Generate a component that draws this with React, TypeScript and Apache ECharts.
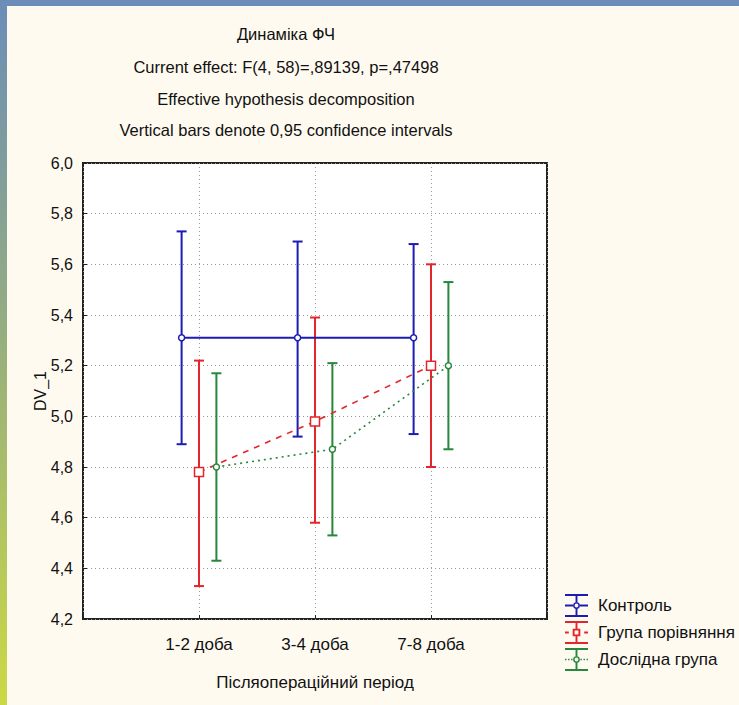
import React, { useEffect, useRef } from 'react';
import * as echarts from 'echarts';

const categories = ['1-2 доба', '3-4 доба', '7-8 доба'];
const seriesNames = ['Контроль', 'Група порівняння', 'Дослідна група'];

const controlMean = [5.31, 5.31, 5.31];
const controlLow = [4.89, 4.92, 4.93];
const controlHigh = [5.73, 5.69, 5.68];

const compareMean = [4.78, 4.98, 5.2];
const compareLow = [4.33, 4.58, 4.8];
const compareHigh = [5.22, 5.39, 5.6];

const studyMean = [4.8, 4.87, 5.2];
const studyLow = [4.43, 4.53, 4.87];
const studyHigh = [5.17, 5.21, 5.53];

const titleLines = [
  'Динаміка ФЧ',
  'Current effect: F(4, 58)=,89139, p=,47498',
  'Effective hypothesis decomposition',
  'Vertical bars denote 0,95 confidence intervals',
];
const yAxisName = 'DV_1';
const xAxisName = 'Післяопераційний період';

const FONT = '"Liberation Sans", Arial, sans-serif';

// legend icon pieces (24x24 box)
const caps = 'M0 0H24V2H0Z M0 22H24V24H0Z ';
const vertCircle = 'M11 2H13V8.5H11Z M11 15.5H13V22H11Z ';
const vertSquare = 'M11 2H13V8H11Z M11 16H13V22H11Z ';
const ring =
  'M15.5 12A3.5 3.5 0 1 1 8.5 12A3.5 3.5 0 1 1 15.5 12Z M14 12A2 2 0 1 0 10 12A2 2 0 1 0 14 12Z ';
const square = 'M8 8H16V16H8Z M10 10V14H14V10Z ';
const iconSolid = 'path://' + caps + vertCircle + 'M0 11H8.5V13H0Z M15.5 11H24V13H15.5Z ' + ring;
const iconDashed = 'path://' + caps + vertSquare + 'M0 11H4V13H0Z M20 11H24V13H20Z ' + square;
const iconDotted =
  'path://' +
  caps +
  vertCircle +
  'M0 11.2H1.5V12.8H0Z M3.2 11.2H4.7V12.8H3.2Z M6.4 11.2H7.9V12.8H6.4Z M16.1 11.2H17.6V12.8H16.1Z M19.3 11.2H20.8V12.8H19.3Z M22.5 11.2H24V12.8H22.5Z ' +
  ring;

const groups = [
  { name: seriesNames[0], mean: controlMean, low: controlLow, high: controlHigh, color: '#1c1cb4', offset: -0.15, symbol: 'circle', size: 6, line: 'solid', icon: iconSolid },
  { name: seriesNames[1], mean: compareMean, low: compareLow, high: compareHigh, color: '#e3262c', offset: 0, symbol: 'rect', size: 9, line: [6, 6], icon: iconDashed },
  { name: seriesNames[2], mean: studyMean, low: studyLow, high: studyHigh, color: '#27873a', offset: 0.15, symbol: 'circle', size: 6, line: [2, 4], icon: iconDotted },
];

export default function App() {
  const ref = useRef<HTMLDivElement>(null);
  useEffect(() => {
    if (!ref.current) return;
    const chart = echarts.init(ref.current, undefined, { renderer: 'svg' });
    const lineSeries = groups.map((g) => ({
      type: 'line',
      name: g.name,
      data: g.mean.map((v, i) => [i + 1 + g.offset, v]),
      symbol: g.symbol,
      symbolSize: g.size,
      itemStyle: { color: '#ffffff', borderColor: g.color, borderWidth: 1.5 },
      lineStyle: { color: g.color, width: g.line === 'solid' ? 2 : 1.6, type: g.line },
      z: 4,
    }));
    const barSeries = groups.map((g) => ({
      type: 'custom',
      name: g.name,
      data: g.low.map((l, i) => [i + 1 + g.offset, l, g.high[i]]),
      encode: { x: 0, y: [1, 2] },
      z: 3,
      renderItem: (params: any, api: any) => {
        const x = api.value(0);
        const top = api.coord([x, api.value(2)]);
        const bot = api.coord([x, api.value(1)]);
        const hw = 5;
        const style = { stroke: g.color, lineWidth: 2 };
        return {
          type: 'group',
          children: [
            { type: 'line', shape: { x1: top[0], y1: top[1], x2: bot[0], y2: bot[1] }, style },
            { type: 'line', shape: { x1: top[0] - hw, y1: top[1], x2: top[0] + hw, y2: top[1] }, style },
            { type: 'line', shape: { x1: bot[0] - hw, y1: bot[1], x2: bot[0] + hw, y2: bot[1] }, style },
          ],
        };
      },
    }));
    const option: any = {
      animation: false,
      backgroundColor: '#fffaf0',
      textStyle: { fontFamily: FONT },
      title: titleLines.map((t, i) => ({
        text: t,
        left: 286,
        top: [25, 58, 90, 121][i],
        textAlign: 'center',
        padding: 0,
        textStyle: { fontSize: 16.5, fontWeight: 'normal', color: '#111', fontFamily: FONT },
      })),
      graphic: [
        { type: 'rect', shape: { x: 0, y: 0, width: 739, height: 6 }, style: { fill: '#6b8db8' } },
        {
          type: 'rect',
          shape: { x: 0, y: 0, width: 7, height: 705 },
          style: {
            fill: new echarts.graphic.LinearGradient(0, 0, 0, 1, [
              { offset: 0, color: '#6b8db8' },
              { offset: 0.5, color: '#98b07c' },
              { offset: 1, color: '#cbd944' },
            ]),
          },
        },
      ],
      legend: {
        orient: 'vertical',
        left: 565,
        top: 594,
        padding: 0,
        itemWidth: 23,
        itemHeight: 24,
        itemGap: 4,
        textStyle: { fontSize: 17, color: '#111', fontFamily: FONT, padding: [0, 0, 0, 5] },
        data: groups.map((g) => ({
          name: g.name,
          icon: g.icon,
          itemStyle: { color: g.color, borderWidth: 0 },
        })),
      },
      grid: {
        left: 83,
        right: 192,
        top: 163,
        bottom: 86,
        show: true,
        backgroundColor: '#ffffff',
        borderColor: '#222',
        borderWidth: 2,
      },
      xAxis: {
        type: 'value',
        min: 0,
        max: 4,
        interval: 1,
        name: xAxisName,
        nameLocation: 'middle',
        nameGap: 55,
        nameTextStyle: { fontSize: 17, color: '#111', fontFamily: FONT },
        axisLine: { show: false },
        axisTick: { show: true, inside: true, length: 4, lineStyle: { color: '#222' } },
        axisLabel: {
          fontSize: 17,
          color: '#111',
          margin: 17,
          formatter: (v: number) => categories[v - 1] ?? '',
        },
        splitLine: { show: true, lineStyle: { color: '#9a9a9a', type: [1, 3], width: 1 } },
      },
      yAxis: {
        type: 'value',
        min: 4.2,
        max: 6.0,
        interval: 0.2,
        name: yAxisName,
        nameLocation: 'middle',
        nameGap: 35,
        nameMoveOverlap: false,
        nameTextStyle: { fontSize: 16, color: '#111', fontFamily: FONT },
        axisLine: { show: false },
        axisTick: { show: true, inside: true, length: 4, lineStyle: { color: '#222' } },
        axisLabel: {
          fontSize: 16,
          color: '#111',
          margin: 10,
          formatter: (v: number) => v.toFixed(1).replace('.', ','),
        },
        splitLine: { show: true, lineStyle: { color: '#9a9a9a', type: [1, 3], width: 1 } },
      },
      series: [...barSeries, ...lineSeries],
    };
    chart.setOption(option);
    return () => chart.dispose();
  }, []);
  return (
    <div
      ref={ref}
      style={{ position: 'absolute', left: 0, top: 0, width: 739, height: 705 }}
    />
  );
}
